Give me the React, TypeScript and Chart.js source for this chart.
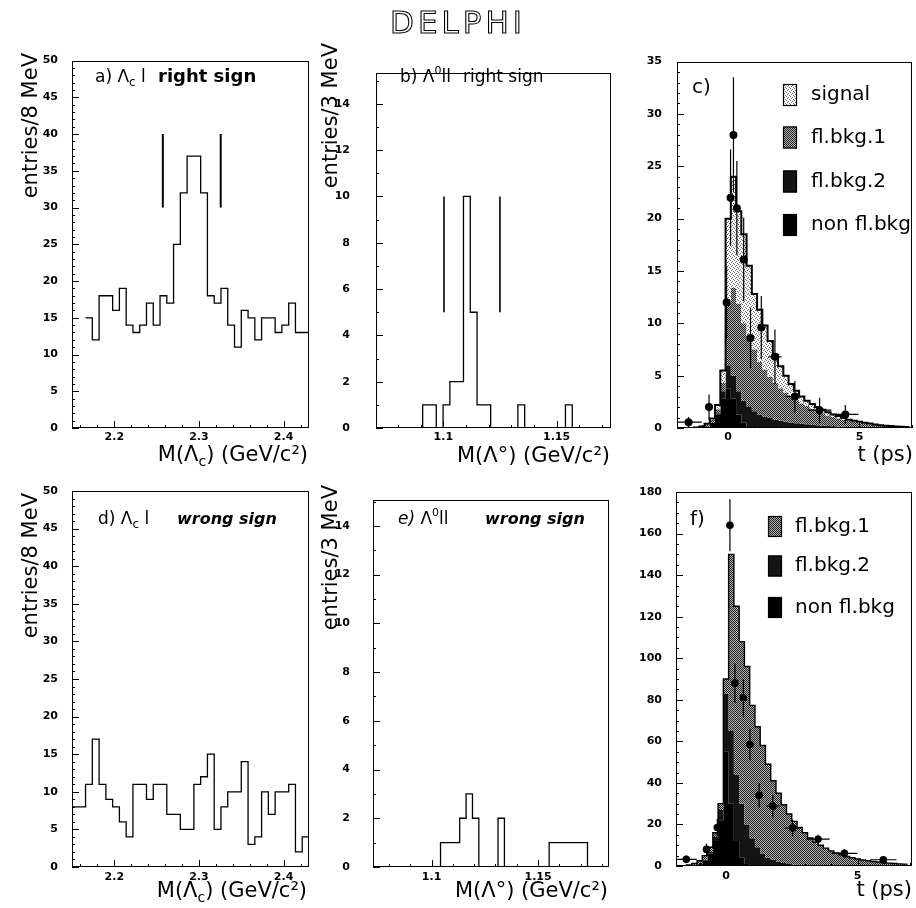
import React, { useEffect, useRef } from 'react';
import { Chart, registerables } from 'chart.js';

Chart.register(...registerables);

const FONT = "'DejaVu Sans', 'Noto Sans', sans-serif";
const f = (spec: string) => `${spec} ${FONT}`;

// ---------------- Data ----------------
// a) Λc l right sign  (8 MeV bins)
const aBinStart = 2.166;
const aBinWidth = 0.008;
const aCounts = [15, 12, 18, 18, 16, 19, 14, 13, 14, 17, 14, 18, 17, 25, 32, 37, 37, 32, 18, 17, 19, 14, 11, 16, 15, 12, 15, 15, 13, 14, 17, 13, 13];
const aWindowX = [2.2573, 2.3257];
const aWindowLo = 30;
const aWindowHi = 40;

// b) Λ0 l l right sign  (3 MeV bins)
const bBinStart = 1.0909;
const bBinWidth = 0.003;
const bCounts = [1, 1, 0, 1, 2, 2, 10, 5, 1, 1, 0, 0, 0, 0, 1, 0, 0, 0, 0, 0, 0, 1];
const bWindowX = [1.1003, 1.125];
const bWindowLo = 5;
const bWindowHi = 10;

// d) Λc l wrong sign  (8 MeV bins)
const dBinStart = 2.15;
const dBinWidth = 0.008;
const dCounts = [8, 8, 11, 17, 11, 9, 8, 6, 4, 11, 11, 9, 11, 11, 7, 7, 5, 5, 11, 12, 15, 5, 8, 10, 10, 14, 3, 4, 10, 7, 10, 10, 11, 2, 4];

// e) Λ0 l l wrong sign  (3 MeV bins)
const eBinStart = 1.1042;
const eBinWidth = 0.003;
const eCounts = [1, 1, 1, 2, 3, 2, 0, 0, 0, 2, 0, 0, 0, 0, 0, 0, 0, 1, 1, 1, 1, 1, 1];

// c) proper time, right sign (0.2 ps bins)
const tBinStart = -1.9;
const tBinWidth = 0.2;
const cNonFl = [0, 0, 0, 0, 0, 0.1, 0.5, 1.3, 2.8, 3.8, 2.8, 1.3, 0.5, 0.1, 0, 0, 0, 0, 0, 0, 0, 0, 0, 0, 0, 0, 0, 0, 0, 0, 0, 0, 0, 0, 0, 0, 0, 0, 0, 0, 0, 0, 0, 0];
const cFlBkg2 = [0, 0, 0, 0, 0, 0, 0, 0.1, 0.7, 2.2, 2.2, 2.2, 2.1, 1.9, 1.6, 1.3, 1.1, 0.95, 0.8, 0.7, 0.6, 0.52, 0.45, 0.4, 0.35, 0.3, 0.26, 0.22, 0.19, 0.16, 0.14, 0.12, 0.1, 0.09, 0.08, 0.07, 0.06, 0.05, 0.04, 0.04, 0.03, 0.03, 0.02, 0.02];
const cFlBkg1 = [0, 0, 0, 0, 0.05, 0.2, 0.3, 0.4, 0.8, 6.0, 8.4, 8.4, 7.4, 6.8, 5.9, 5.0, 4.5, 3.95, 3.5, 3.1, 2.8, 2.48, 2.2, 1.95, 1.75, 1.55, 1.34, 1.18, 1.01, 0.89, 0.78, 0.68, 0.58, 0.49, 0.42, 0.35, 0.29, 0.24, 0.2, 0.16, 0.13, 0.1, 0.09, 0.07];
const cSignal = [0, 0, 0, 0.05, 0.1, 0.1, 0.1, 0.4, 1.2, 8.0, 10.6, 8.8, 8.5, 6.7, 5.3, 5.0, 4.2, 3.4, 2.7, 2.1, 1.6, 1.2, 0.9, 0.65, 0.5, 0.45, 0.4, 0.35, 0.3, 0.25, 0.23, 0.15, 0.12, 0.12, 0.1, 0.08, 0.07, 0.05, 0.03, 0.02, 0.02, 0.02, 0.01, 0.01];
const cPtT = [-1.51, -0.73, -0.06, 0.09, 0.2, 0.33, 0.59, 0.85, 1.26, 1.78, 2.54, 3.48, 4.46];
const cPtV = [0.56, 2.0, 12.0, 22.0, 28.0, 21.0, 16.1, 8.6, 9.6, 6.8, 3.0, 1.7, 1.3];
const cPtErrY = [0.5, 1.2, 3.4, 4.6, 5.5, 4.5, 4.0, 2.9, 3.0, 2.6, 1.5, 1.2, 0.9];
const cPtErrX = [0.5, 0.15, 0, 0, 0, 0, 0.1, 0.12, 0.15, 0.25, 0.35, 0.45, 0.5];

// f) proper time, wrong sign (0.2 ps bins)
const fNonFl = [0, 0, 0, 0.2, 0.8, 2.5, 6, 12, 22, 55, 30, 12, 4, 1, 0.3, 0, 0, 0, 0, 0, 0, 0, 0, 0, 0, 0, 0, 0, 0, 0, 0, 0, 0, 0, 0, 0, 0, 0, 0, 0, 0, 0, 0, 0];
const fFlBkg2 = [0, 0, 0, 0, 0.2, 0.5, 1, 2, 5, 28, 35, 32, 26, 19, 13, 9, 6, 4, 3, 2, 1.5, 1, 0.7, 0.5, 0.4, 0.3, 0.2, 0.15, 0.1, 0.1, 0.05, 0.05, 0, 0, 0, 0, 0, 0, 0, 0, 0, 0, 0, 0];
const fFlBkg1 = [0, 0.2, 0.5, 1.0, 1.5, 2.0, 2, 2, 3, 7, 85, 81, 78, 76, 64, 58, 52, 45, 38, 33, 28, 24, 20.8, 18, 15.6, 13.2, 11.3, 9.85, 8.5, 7.2, 6.25, 5.35, 4.6, 4.0, 3.4, 2.9, 2.5, 2.2, 1.9, 1.6, 1.4, 1.2, 1.0, 0.9];
const fPtT = [-1.51, -0.74, -0.33, 0.15, 0.34, 0.66, 0.91, 1.26, 1.78, 2.53, 3.5, 4.5, 5.98];
const fPtV = [3.2, 8.0, 18.5, 164, 88, 81, 58.5, 34, 28.8, 18.3, 12.9, 6.1, 3.0];
const fPtErrY = [1.8, 2.8, 4.3, 12.5, 9.4, 9.0, 7.6, 5.8, 5.4, 4.1, 2.3, 2.0, 1.2];
const fPtErrX = [0.4, 0.1, 0.1, 0, 0, 0.1, 0.1, 0.15, 0.25, 0.3, 0.44, 0.5, 0.5];

// Tick labels
const lcMassTicks = [2.2, 2.3, 2.4];
const l0MassTicksB = [1.1, 1.15];
const timeTicks = [0, 5];
const entries50Ticks = [0, 5, 10, 15, 20, 25, 30, 35, 40, 45, 50];
const entries14Ticks = [0, 2, 4, 6, 8, 10, 12, 14];
const cYTicks = [0, 5, 10, 15, 20, 25, 30, 35];
const fYTicks = [0, 20, 40, 60, 80, 100, 120, 140, 160, 180];

const legendC = ['signal', 'fl.bkg.1', 'fl.bkg.2', 'non fl.bkg'];
const legendF = ['fl.bkg.1', 'fl.bkg.2', 'non fl.bkg'];

// ---------------- helpers ----------------
type Run = { t: string; font: string; dy?: number };

function histPoints(start: number, width: number, counts: number[], closeEnds: boolean) {
  const pts: any[] = [];
  if (closeEnds) pts.push({ x: start, y: 0 });
  counts.forEach((c, i) => pts.push({ x: start + i * width, y: c }));
  pts.push({ x: start + counts.length * width, y: closeEnds ? 0 : counts[counts.length - 1] });
  return pts;
}

function cumulate(...arrs: number[][]) {
  return arrs[0].map((_, i) => arrs.reduce((s, a) => s + a[i], 0));
}

function vSegments(xs: number[], lo: number[], hi: number[]) {
  const pts: any[] = [];
  xs.forEach((x, i) => {
    pts.push({ x, y: lo[i] }, { x, y: hi[i] }, { x, y: null });
  });
  return pts;
}

function hSegments(xs: number[], ys: number[], ex: number[]) {
  const pts: any[] = [];
  xs.forEach((x, i) => {
    if (ex[i] > 0) pts.push({ x: x - ex[i], y: ys[i] }, { x: x + ex[i], y: ys[i] }, { x, y: null });
  });
  return pts;
}

// 'before' in Chart.js: horizontal at the previous value up to the next x, then vertical
function histLine(data: any[], width = 1.3) {
  return { data, borderColor: '#000', borderWidth: width, stepped: 'before', fill: false, pointRadius: 0 };
}

function lineSegs(data: any[], width: number) {
  return { data, borderColor: '#000', borderWidth: width, fill: false, pointRadius: 0, stepped: false };
}

function fillLayer(data: any[], bg: any, target: any) {
  return { data, borderColor: 'rgba(0,0,0,0)', borderWidth: 0, stepped: 'before', fill: target, backgroundColor: bg, pointRadius: 0 };
}

function pointsSet(xs: number[], ys: number[], r: number) {
  return {
    data: xs.map((x, i) => ({ x, y: ys[i] })),
    showLine: false, pointRadius: r, pointBackgroundColor: '#000', pointBorderWidth: 0, borderColor: '#000',
  };
}

function makePattern(ctx: CanvasRenderingContext2D, size: number, dots: number[][], dark: string, light: string) {
  const c = document.createElement('canvas');
  c.width = size;
  c.height = size;
  const g = c.getContext('2d')!;
  g.fillStyle = light;
  g.fillRect(0, 0, size, size);
  g.fillStyle = dark;
  dots.forEach(([x, y]) => g.fillRect(x, y, 1, 1));
  return ctx.createPattern(c, 'repeat');
}

function drawRuns(ctx: CanvasRenderingContext2D, x: number, y: number, runs: Run[], align: 'left' | 'right') {
  ctx.save();
  ctx.fillStyle = '#000';
  ctx.textBaseline = 'alphabetic';
  ctx.textAlign = 'left';
  let total = 0;
  runs.forEach((r) => { ctx.font = r.font; total += ctx.measureText(r.t).width; });
  let cx = align === 'right' ? x - total : x;
  runs.forEach((r) => {
    ctx.font = r.font;
    ctx.fillText(r.t, cx, y + (r.dy || 0));
    cx += ctx.measureText(r.t).width;
  });
  ctx.restore();
}

function minorValues(min: number, max: number, step: number) {
  const out: number[] = [];
  const k0 = Math.ceil(min / step - 1e-9);
  const k1 = Math.floor(max / step + 1e-9);
  for (let k = k0; k <= k1; k++) out.push(Math.round(k * step * 1e6) / 1e6);
  return out;
}

const lcTitle: Run[] = [
  { t: 'M(Λ', font: f('21px') },
  { t: 'c', font: f('14px'), dy: 5 },
  { t: ') (GeV/c²)', font: f('21px') },
];
const l0Title: Run[] = [{ t: 'M(Λ°) (GeV/c²)', font: f('21px') }];
const tTitle: Run[] = [{ t: 't (ps)', font: f('21px') }];

// ---------------- panels ----------------
const PANELS: any[] = [
  {
    key: 'a', left: 0, top: 40, width: 312, height: 430,
    pad: { left: 0, top: 13, right: 3, bottom: 0 }, yW: 72, xH: 42,
    x: [2.15, 2.43], y: [0, 50], xTicks: lcMassTicks, yTicks: entries50Ticks,
    xMinor: 0.02, yMinor: 1, yLabelPad: 14, xLabelPad: 3,
    yTitle: { text: 'entries/8 MeV', x: 37, top: 53 },
    xTitle: { runs: lcTitle, right: 308, baseline: 461 },
    texts: [
      { x: 95, y: 82, runs: [{ t: 'a) Λ', font: f('17px') }, { t: 'c', font: f('12px'), dy: 4 }, { t: ' l', font: f('17px') }] },
      { x: 158, y: 82, runs: [{ t: 'right sign', font: f('bold 18px') }] },
    ],
    datasets: () => [
      lineSegs(vSegments(aWindowX, aWindowX.map(() => aWindowLo), aWindowX.map(() => aWindowHi)), 2),
      histLine(histPoints(aBinStart, aBinWidth, aCounts, false)),
    ],
  },
  {
    key: 'b', left: 312, top: 40, width: 302, height: 430,
    pad: { left: 0, top: 13, right: 3, bottom: 0 }, yW: 64, xH: 42,
    x: [1.0703, 1.174], y: [0, 15.35], xTicks: l0MassTicksB, yTicks: entries14Ticks,
    xMinor: 0.01, yMinor: 1, yLabelPad: 26, xLabelPad: 3,
    yTitle: { text: 'entries/3 MeV', x: 337, top: 43 },
    xTitle: { runs: l0Title, right: 610, baseline: 462 },
    texts: [
      { x: 400, y: 82, runs: [{ t: 'b) Λ', font: f('17px') }, { t: '0', font: f('11px'), dy: -8 }, { t: 'll', font: f('17px') }] },
      { x: 463, y: 82, runs: [{ t: 'right sign', font: f('17px') }] },
    ],
    datasets: () => [
      lineSegs(vSegments(bWindowX, bWindowX.map(() => bWindowLo), bWindowX.map(() => bWindowHi)), 1.6),
      histLine(histPoints(bBinStart, bBinWidth, bCounts, true)),
    ],
  },
  {
    key: 'c', left: 614, top: 40, width: 302, height: 430,
    pad: { left: 0, top: 12, right: 2, bottom: 0 }, yW: 63, xH: 42,
    x: [-1.95, 7.0], y: [0, 35], xTicks: timeTicks, yTicks: cYTicks,
    xMinor: 1, yMinor: 1, yLabelPad: 15, xLabelPad: 3,
    xTitle: { runs: tTitle, right: 913, baseline: 461 },
    texts: [{ x: 692, y: 93, runs: [{ t: 'c)', font: f('20px') }] }],
    legend: { boxX: 783, boxW: 14, boxH: 22, labelX: 811, ys: [95, 137.5, 181.5, 225], labels: legendC, styles: ['sig', 'fl1', 'fl2', 'non'] },
    datasets: (fl: any) => {
      const l1 = cNonFl;
      const l2 = cumulate(cNonFl, cFlBkg2);
      const l3 = cumulate(cNonFl, cFlBkg2, cFlBkg1);
      const l4 = cumulate(cNonFl, cFlBkg2, cFlBkg1, cSignal);
      return [
        pointsSet(cPtT, cPtV, 4),
        lineSegs(vSegments(cPtT, cPtV.map((v, i) => Math.max(0, v - cPtErrY[i])), cPtV.map((v, i) => v + cPtErrY[i])), 1.2),
        lineSegs(hSegments(cPtT, cPtV, cPtErrX), 1.2),
        histLine(histPoints(tBinStart, tBinWidth, l4, false), 2),
        fillLayer(histPoints(tBinStart, tBinWidth, l4, false), fl.sig, 5),
        fillLayer(histPoints(tBinStart, tBinWidth, l3, false), fl.fl1, 6),
        fillLayer(histPoints(tBinStart, tBinWidth, l2, false), fl.fl2, 7),
        fillLayer(histPoints(tBinStart, tBinWidth, l1, false), fl.non, 'origin'),
      ];
    },
  },
  {
    key: 'd', left: 0, top: 470, width: 312, height: 438,
    pad: { left: 0, top: 21, right: 3, bottom: 0 }, yW: 72, xH: 41,
    x: [2.15, 2.43], y: [0, 50], xTicks: lcMassTicks, yTicks: entries50Ticks,
    xMinor: 0.02, yMinor: 1, yLabelPad: 14, xLabelPad: 4,
    yTitle: { text: 'entries/8 MeV', x: 37, top: 493 },
    xTitle: { runs: lcTitle, right: 307, baseline: 897 },
    texts: [
      { x: 98, y: 524, runs: [{ t: 'd) Λ', font: f('17px') }, { t: 'c', font: f('12px'), dy: 4 }, { t: ' l', font: f('17px') }] },
      { x: 177, y: 524, runs: [{ t: 'wrong sign', font: f('italic bold 16px') }] },
    ],
    datasets: () => [histLine(histPoints(dBinStart, dBinWidth, dCounts, false))],
  },
  {
    key: 'e', left: 312, top: 470, width: 302, height: 438,
    pad: { left: 0, top: 21, right: 5, bottom: 0 }, yW: 61, xH: 41,
    x: [1.0725, 1.1833], y: [0, 15.08], xTicks: l0MassTicksB, yTicks: entries14Ticks,
    xMinor: 0.01, yMinor: 1, yLabelPad: 23, xLabelPad: 4,
    yTitle: { text: 'entries/3 MeV', x: 337, top: 485 },
    xTitle: { runs: l0Title, right: 608, baseline: 897 },
    texts: [
      { x: 398, y: 524, runs: [{ t: 'e)', font: f('italic 17px') }, { t: ' Λ', font: f('17px') }, { t: '0', font: f('11px'), dy: -8 }, { t: 'll', font: f('17px') }] },
      { x: 485, y: 524, runs: [{ t: 'wrong sign', font: f('italic bold 16px') }] },
    ],
    datasets: () => [histLine(histPoints(eBinStart, eBinWidth, eCounts, true))],
  },
  {
    key: 'f', left: 614, top: 470, width: 302, height: 438,
    pad: { left: 0, top: 22, right: 3, bottom: 0 }, yW: 62, xH: 42,
    x: [-1.9, 7.07], y: [0, 180], xTicks: timeTicks, yTicks: fYTicks,
    xMinor: 1, yMinor: 5, yLabelPad: 14, xLabelPad: 4,
    xTitle: { runs: tTitle, right: 912, baseline: 896 },
    texts: [{ x: 690, y: 525, runs: [{ t: 'f)', font: f('20px') }] }],
    legend: { boxX: 768, boxW: 14, boxH: 21, labelX: 795, ys: [526.5, 566, 607.5], labels: legendF, styles: ['fl1', 'fl2', 'non'] },
    datasets: (fl: any) => {
      const l1 = fNonFl;
      const l2 = cumulate(fNonFl, fFlBkg2);
      const l3 = cumulate(fNonFl, fFlBkg2, fFlBkg1);
      return [
        pointsSet(fPtT, fPtV, 3.8),
        lineSegs(vSegments(fPtT, fPtV.map((v, i) => Math.max(0, v - fPtErrY[i])), fPtV.map((v, i) => v + fPtErrY[i])), 1.2),
        lineSegs(hSegments(fPtT, fPtV, fPtErrX), 1.2),
        histLine(histPoints(tBinStart, tBinWidth, l3, false), 1.4),
        fillLayer(histPoints(tBinStart, tBinWidth, l3, false), fl.fl1, 5),
        fillLayer(histPoints(tBinStart, tBinWidth, l2, false), fl.fl2, 6),
        fillLayer(histPoints(tBinStart, tBinWidth, l1, false), fl.non, 'origin'),
      ];
    },
  },
];

function buildChart(canvas: HTMLCanvasElement, p: any) {
  const ctx0 = canvas.getContext('2d')!;
  const fills: any = {
    sig: makePattern(ctx0, 4, [[0, 0], [2, 1], [1, 2], [3, 3]], '#666', '#ffffff'),
    fl1: makePattern(ctx0, 2, [[0, 0], [1, 1]], '#1c1c1c', '#b8b8b8'),
    fl2: '#141414',
    non: '#000000',
  };

  const decor = {
    id: 'decor_' + p.key,
    afterDatasetsDraw(chart: any) {
      const { ctx, chartArea: ca, scales } = chart;
      ctx.save();
      ctx.strokeStyle = '#000';
      ctx.lineWidth = 1;
      ctx.strokeRect(Math.round(ca.left) + 0.5, Math.round(ca.top) + 0.5, Math.round(ca.right - ca.left) - 1, Math.round(ca.bottom - ca.top) - 1);
      const xs = scales.x;
      const ys = scales.y;
      ctx.beginPath();
      minorValues(p.x[0], p.x[1], p.xMinor).forEach((v) => {
        const px = Math.round(xs.getPixelForValue(v)) + 0.5;
        ctx.moveTo(px, ca.bottom);
        ctx.lineTo(px, ca.bottom - 3);
      });
      p.xTicks.forEach((v: number) => {
        const px = Math.round(xs.getPixelForValue(v)) + 0.5;
        ctx.moveTo(px, ca.bottom);
        ctx.lineTo(px, ca.bottom - 7);
      });
      minorValues(p.y[0], p.y[1], p.yMinor).forEach((v) => {
        const py = Math.round(ys.getPixelForValue(v)) + 0.5;
        ctx.moveTo(ca.left, py);
        ctx.lineTo(ca.left + 3, py);
      });
      p.yTicks.forEach((v: number) => {
        const py = Math.round(ys.getPixelForValue(v)) + 0.5;
        ctx.moveTo(ca.left, py);
        ctx.lineTo(ca.left + 7, py);
      });
      ctx.stroke();
      ctx.restore();
    },
    afterDraw(chart: any) {
      const ctx = chart.ctx as CanvasRenderingContext2D;
      const ox = p.left;
      const oy = p.top;
      if (p.yTitle) {
        ctx.save();
        ctx.translate(p.yTitle.x - ox, p.yTitle.top - oy);
        ctx.rotate(-Math.PI / 2);
        ctx.textAlign = 'right';
        ctx.textBaseline = 'alphabetic';
        ctx.fillStyle = '#000';
        ctx.font = f('21px');
        ctx.fillText(p.yTitle.text, 0, 0);
        ctx.restore();
      }
      drawRuns(ctx, p.xTitle.right - ox, p.xTitle.baseline - oy, p.xTitle.runs, 'right');
      p.texts.forEach((t: any) => drawRuns(ctx, t.x - ox, t.y - oy, t.runs, 'left'));
      if (p.legend) {
        const L = p.legend;
        L.labels.forEach((label: string, i: number) => {
          const by = L.ys[i] - L.boxH / 2 - oy;
          ctx.save();
          ctx.fillStyle = fills[L.styles[i]];
          ctx.fillRect(L.boxX - ox, by, L.boxW, L.boxH);
          ctx.strokeStyle = '#000';
          ctx.lineWidth = 1.2;
          ctx.strokeRect(L.boxX - ox + 0.5, by + 0.5, L.boxW - 1, L.boxH - 1);
          ctx.fillStyle = '#000';
          ctx.font = f('20px');
          ctx.textAlign = 'left';
          ctx.textBaseline = 'middle';
          ctx.fillText(label, L.labelX - ox, L.ys[i] - oy);
          ctx.restore();
        });
      }
    },
  };

  const tickFont = { family: FONT, size: 11, weight: 'bold' as const };

  return new Chart(canvas, {
    type: 'line',
    data: { datasets: p.datasets(fills) },
    options: {
      responsive: false,
      maintainAspectRatio: false,
      animation: false,
      devicePixelRatio: 1,
      events: [],
      layout: { padding: p.pad },
      plugins: { legend: { display: false }, tooltip: { enabled: false }, title: { display: false } },
      elements: { line: { tension: 0 }, point: { radius: 0 } },
      scales: {
        x: {
          type: 'linear', min: p.x[0], max: p.x[1],
          grid: { display: false, drawTicks: false },
          border: { display: false },
          afterBuildTicks: (s: any) => { s.ticks = p.xTicks.map((v: number) => ({ value: v })); },
          afterFit: (s: any) => { s.height = p.xH; },
          ticks: { autoSkip: false, maxRotation: 0, minRotation: 0, padding: p.xLabelPad, color: '#000', font: tickFont, callback: (v: any) => String(v) },
        },
        y: {
          type: 'linear', min: p.y[0], max: p.y[1],
          grid: { display: false, drawTicks: false },
          border: { display: false },
          afterBuildTicks: (s: any) => { s.ticks = p.yTicks.map((v: number) => ({ value: v })); },
          afterFit: (s: any) => { s.width = p.yW; },
          ticks: { autoSkip: false, padding: p.yLabelPad, color: '#000', font: tickFont, callback: (v: any) => String(v) },
        },
      },
    } as any,
    plugins: [decor],
  });
}

export default function App() {
  const refs = useRef<(HTMLCanvasElement | null)[]>([]);
  useEffect(() => {
    const charts = PANELS.map((p, i) => buildChart(refs.current[i]!, p));
    return () => charts.forEach((c) => c.destroy());
  }, []);
  return (
    <div style={{ position: 'absolute', left: 0, top: 0, width: 916, height: 908, background: '#fff', overflow: 'hidden' }}>
      <div style={{ position: 'absolute', left: 0, top: 0, width: 916, height: 40, opacity: 0.99, willChange: 'transform' }}>
        <svg width={916} height={40}>
          <text
            x={458}
            y={33}
            textAnchor="middle"
            fontFamily="DejaVu Sans, sans-serif"
            fontSize={31}
            letterSpacing={4}
            fill="none"
            stroke="#000"
            strokeWidth={1.1}
          >
            DELPHI
          </text>
        </svg>
      </div>
      {PANELS.map((p, i) => (
        <canvas
          key={p.key}
          ref={(el) => { refs.current[i] = el; }}
          width={p.width}
          height={p.height}
          style={{ position: 'absolute', left: p.left, top: p.top, width: p.width, height: p.height }}
        />
      ))}
    </div>
  );
}
